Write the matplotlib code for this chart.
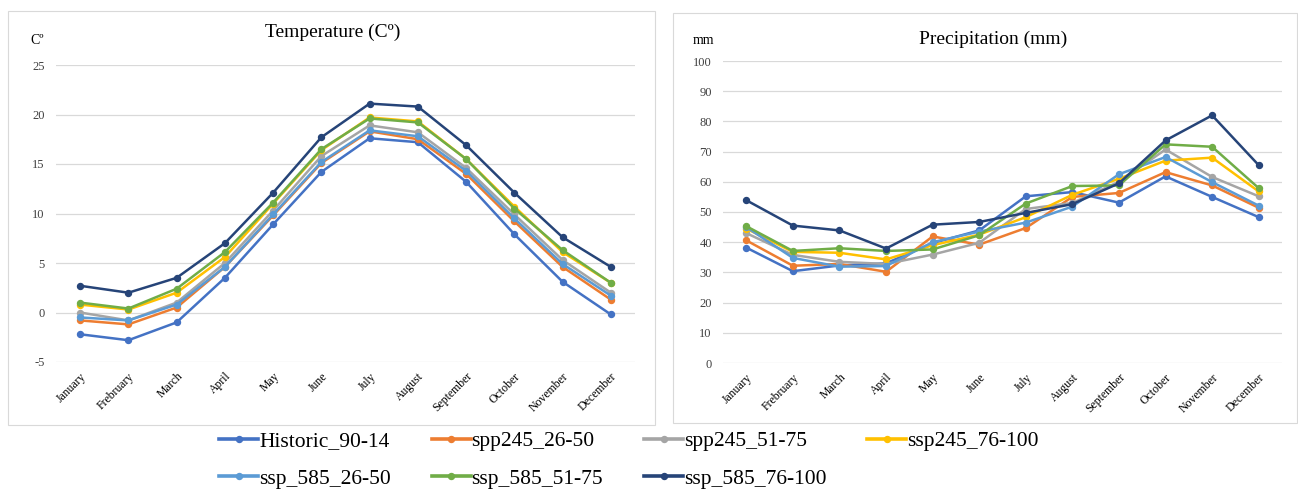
import numpy as np
import matplotlib.pyplot as plt
from matplotlib.patches import Rectangle

plt.rcParams['font.family'] = 'serif'
plt.rcParams['font.serif'] = ['Liberation Serif', 'DejaVu Serif']
plt.rcParams['axes.unicode_minus'] = False

months = ['January', 'Frebruary', 'March', 'April', 'May', 'June', 'July',
          'August', 'September', 'October', 'November', 'December']
series = ['Historic_90-14', 'spp245_26-50', 'spp245_51-75', 'ssp245_76-100',
          'ssp_585_26-50', 'ssp_585_51-75', 'ssp_585_76-100']
colors = ['#4472C4', '#ED7D31', '#A5A5A5', '#FFC000', '#5B9BD5', '#70AD47', '#264478']

# temperature (C)
temp_hist = [-2.2, -2.8, -1.0, 3.5, 8.9, 14.2, 17.6, 17.2, 13.2, 7.9, 3.1, -0.2]
temp_245_26 = [-0.8, -1.2, 0.5, 4.6, 9.8, 15.1, 18.3, 17.5, 14.0, 9.2, 4.6, 1.3]
temp_245_51 = [0.0, -0.8, 1.0, 5.0, 10.3, 15.8, 18.9, 18.2, 14.6, 9.9, 5.3, 2.0]
temp_245_76 = [0.8, 0.3, 2.0, 5.6, 11.0, 16.4, 19.7, 19.3, 15.5, 10.7, 6.1, 3.0]
temp_585_26 = [-0.5, -0.8, 0.8, 4.6, 9.9, 15.2, 18.4, 17.8, 14.3, 9.5, 4.9, 1.7]
temp_585_51 = [1.0, 0.4, 2.4, 6.1, 11.1, 16.5, 19.6, 19.2, 15.5, 10.5, 6.3, 3.0]
temp_585_76 = [2.7, 2.0, 3.5, 7.0, 12.1, 17.7, 21.1, 20.8, 16.9, 12.1, 7.6, 4.6]

# precipitation (mm)
prec_hist = [38.2, 30.4, 32.3, 33.0, 39.7, 43.9, 55.2, 56.6, 53.1, 61.8, 55.0, 48.3]
prec_245_26 = [40.6, 32.2, 32.8, 30.2, 41.9, 39.2, 44.7, 55.0, 56.3, 63.2, 58.8, 51.4]
prec_245_51 = [43.0, 35.8, 33.5, 32.8, 35.9, 39.8, 51.0, 53.0, 60.0, 70.7, 61.6, 55.2]
prec_245_76 = [44.5, 36.8, 36.5, 34.3, 39.0, 42.5, 48.3, 55.7, 61.0, 67.0, 68.0, 56.8]
prec_585_26 = [45.0, 34.8, 31.9, 32.1, 40.0, 43.5, 46.5, 51.8, 62.5, 68.2, 59.9, 52.1]
prec_585_51 = [45.3, 37.1, 38.0, 37.1, 37.6, 42.3, 52.8, 58.6, 58.8, 72.4, 71.6, 57.9]
prec_585_76 = [53.9, 45.5, 43.9, 37.9, 45.8, 46.7, 49.7, 52.6, 59.5, 73.7, 82.0, 65.5]

temps = [temp_hist, temp_245_26, temp_245_51, temp_245_76, temp_585_26, temp_585_51, temp_585_76]
precs = [prec_hist, prec_245_26, prec_245_51, prec_245_76, prec_585_26, prec_585_51, prec_585_76]

W, H = 1298, 491
fig = plt.figure(figsize=(W / 100, H / 100), dpi=100)

# panel frames
for (x0, y0, x1, y1) in [(8, 11, 655, 425), (673, 13, 1297, 423)]:
    fig.patches.append(Rectangle((x0 / W, 1 - y1 / H), (x1 - x0) / W, (y1 - y0) / H,
                                 transform=fig.transFigure, fill=False,
                                 edgecolor='#D9D9D9', lw=0.8))

ax1 = fig.add_axes([56 / W, 1 - 362 / H, (635 - 56) / W, (362 - 65) / H])
ax2 = fig.add_axes([723 / W, 1 - 363 / H, (1282 - 723) / W, (363 - 61) / H])

x = np.arange(len(months))
lines = []
for ax, data in [(ax1, temps), (ax2, precs)]:
    for vals, name, c in zip(data, series, colors):
        ln, = ax.plot(x, vals, color=c, lw=1.8, marker='o', ms=4.3, label=name)
        if ax is ax1:
            lines.append(ln)
    ax.set_xlim(-0.5, 11.5)
    ax.set_xticks(x)
    ax.set_xticklabels(months, rotation=45, ha='right', rotation_mode='anchor', fontsize=8.5)
    ax.tick_params(axis='both', length=0)
    ax.tick_params(axis='y', labelsize=9, pad=8, labelcolor='#404040')
    ax.tick_params(axis='x', pad=6)
    for s in ax.spines.values():
        s.set_visible(False)
    ax.grid(axis='y', color='#D9D9D9', lw=0.9)
    ax.set_axisbelow(True)

ax1.set_ylim(-5, 25)
ax1.set_yticks(np.arange(-5, 26, 5))
ax2.set_ylim(0, 100)
ax2.set_yticks(np.arange(0, 101, 10))

fig.text(333 / W, 1 - 32 / H, 'Temperature (Cº)', ha='center', va='center', fontsize=14)
fig.text(993 / W, 1 - 39 / H, 'Precipitation (mm)', ha='center', va='center', fontsize=14)
fig.text(37 / W, 1 - 41 / H, 'Cº', ha='center', va='center', fontsize=10)
fig.text(703 / W, 1 - 40 / H, 'mm', ha='center', va='center', fontsize=10)

order = [0, 4, 1, 5, 2, 6, 3]
leg = fig.legend([lines[i] for i in order], [series[i] for i in order],
                 loc='center', bbox_to_anchor=(629 / W, 1 - 460 / H), ncol=4,
                 frameon=False, fontsize=15.5, handlelength=1.8, handletextpad=0.05,
                 columnspacing=1.9, labelspacing=0.8, borderpad=0)
for h in leg.legend_handles:
    h.set_linewidth(2.6)

fig.savefig('out.png', dpi=100)
